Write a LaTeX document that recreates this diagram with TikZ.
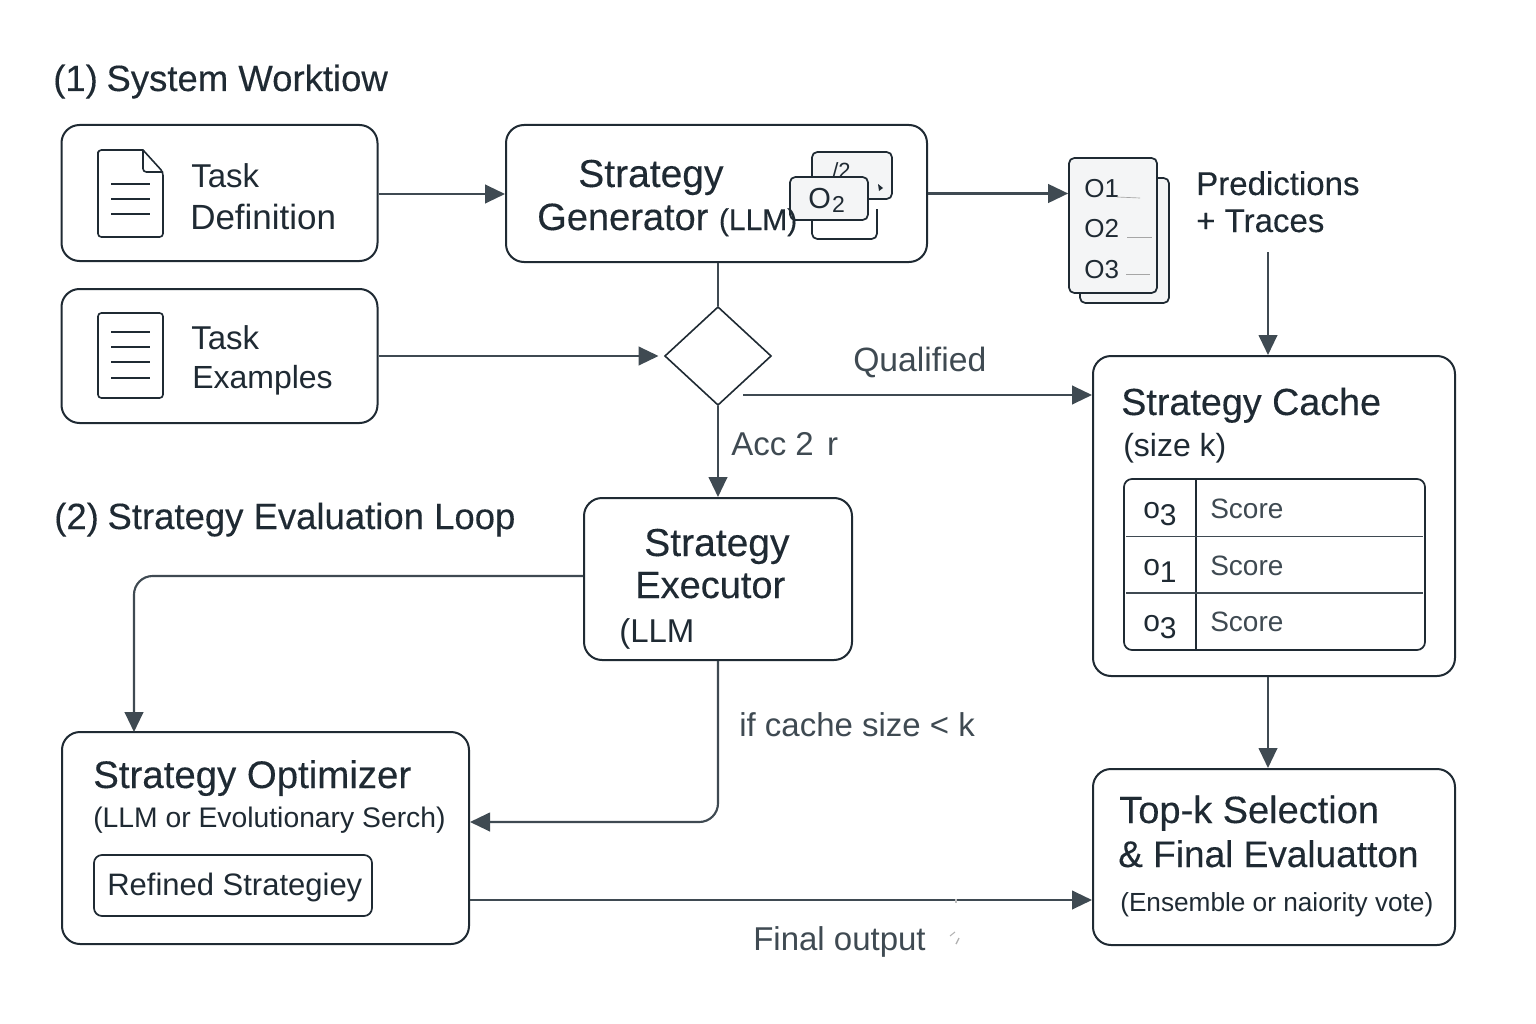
\documentclass[tikz,border=0pt]{standalone}
\usepackage{fontspec}
\setmainfont{Liberation Sans}
\newfontface\medf[FakeBold=0.25]{Liberation Sans}
\usetikzlibrary{arrows.meta,shapes.geometric}
\definecolor{ink}{HTML}{1F2A33}
\definecolor{soft}{HTML}{3F4A52}
\definecolor{sheet}{HTML}{F4F5F6}
\newcommand{\fs}[1]{\pgfmathsetmacro{\fsz}{#1*0.75}\fontsize{\fsz}{\fsz}\selectfont}
\newcommand{\mfs}[1]{\medf\fs{#1}}
\tikzset{
  x=0.75pt,y=-0.75pt,
  panel/.style n args={2}{draw=ink,line width=1.5pt,rounded corners=13.5pt,minimum width=#1*0.75pt,minimum height=#2*0.75pt,inner sep=0pt,fill=white},
  card/.style={draw=ink,line width=1.3pt,rounded corners=4pt,fill=sheet},
  doc/.style={draw=ink,line width=1.2pt,rounded corners=2.5pt,fill=white},
  rule/.style={draw=ink,line width=1.1pt},
  flow/.style={draw=soft,line width=1.6pt,-{Triangle[length=15pt,width=14pt]}},
  plain/.style={draw=soft,line width=1.6pt},
  txt/.style={text=ink,inner sep=0pt,anchor=base west},
  lbl/.style={text=soft,inner sep=0pt,anchor=base west},
}
\begin{document}
\begin{tikzpicture}
\useasboundingbox (0,0) rectangle (1536,1024);
% panels
\node[panel={316}{136}] (def) at (219.5,193) {};
\node[panel={421}{137}] (gen) at (716.5,193.5) {};
\node[panel={316}{134}] (exa) at (219.5,356) {};
\node[diamond,draw=ink,line width=1.2pt,minimum width=80pt,minimum height=74pt,inner sep=0pt,aspect=1.08] (dia) at (718,356) {};
\node[panel={268}{162}] (exe) at (718,579) {};
\node[panel={362}{320}] (cache) at (1274,516) {};
\node[panel={407}{212}] (opt) at (265.5,838) {};
\node[panel={362}{176}] (top) at (1274,857) {};
\node[draw=ink,line width=1.3pt,rounded corners=6pt,minimum width=278*0.75pt,minimum height=61*0.75pt,inner sep=0pt] (ref) at (233,885.5) {};
\node[draw=ink,line width=1.3pt,rounded corners=6pt,minimum width=301*0.75pt,minimum height=171*0.75pt,inner sep=0pt] (tab) at (1274.5,564.5) {};
% table rules
\draw[rule] (1196,479) -- (1196,650);
\draw[rule,draw=soft] (1126,536.5) -- (1423,536.5);
\draw[rule,draw=soft] (1126,593) -- (1423,593);
% document icons
\draw[doc] (98,155) -- (98,237) -- (163,237) -- (163,172) [sharp corners] -- (143,150) [rounded corners=2.5pt] -- (98,150) -- cycle;
\draw[doc,fill=none] (143,150) -- (143,172) -- (163,172);
\foreach \yy in {184,199,214}{\draw[rule] (111,\yy) -- (150,\yy);}
\draw[doc] (98,313) rectangle (163,398);
\foreach \yy in {332,347,362,378}{\draw[rule] (111,\yy) -- (150,\yy);}
% option cards in the generator
\draw[card] (812,152) rectangle (892,199);
\node[txt,font=\fs{22}] at (832,178) {/2};
\fill[ink] (878,184) -- (883,188) -- (879,191) -- cycle;
\draw[ink,line width=1.3pt,rounded corners=4pt] (877,209) -- (877,239) -- (812,239) -- (812,220);
\draw[card] (790,177) rectangle (868,220);
\node[txt,font=\fs{29}] at (808,208) {O\raisebox{-0.3ex}{\fs{23}\kern1pt 2}};
% stacked sheets
\draw[card] (1080,178) rectangle (1169,303);
\node[card,minimum width=88*0.75pt,minimum height=135*0.75pt,inner sep=0pt] (stack) at (1113,225.5) {};
\node[txt,font=\fs{26}] (o1) at (1084,197) {O1};
\node[txt,font=\fs{26}] (o2) at (1084,237) {O2};
\node[txt,font=\fs{26}] (o3) at (1084,278) {O3};
\draw[gray!70,line width=0.5pt] (1117,197) -- (1140,198);
\draw[gray!70,line width=0.5pt] (1127,237.5) -- (1152,237.5);
\draw[gray!70,line width=0.5pt] (1126,274) -- (1150,274);
% connectors
\draw[flow] ([yshift=-0.75pt]def.east) -- ([yshift=-0.75pt]def.east -| gen.west);
\draw[flow] (gen.east) -- (gen.east -| stack.west);
\draw[plain] (gen.south -| dia.north) -- (dia.north);
\draw[flow] (exa.east) -- ([xshift=-4pt]dia.west);
\draw[flow] (dia.south) -- (dia.south |- exe.north);
\coordinate (qs) at (743,395);
\draw[flow] (qs) -- (qs -| cache.west);
\coordinate (ps) at (1268,252);
\draw[flow] (ps) -- (ps |- cache.north);
\draw[flow] (cache.south -| ps) -- (ps |- top.north);
\draw[flow,rounded corners=14pt] (exe.west |- 0,576) -- (134,576) -- (134,732);
\draw[flow,rounded corners=14pt] (exe.south) -- (718,822) -- (470,822);
\draw[flow] (opt.east |- 0,900) -- (top.west |- 0,900);
% text
\node[txt,font=\mfs{36.5}] at (53,91) {(1)\kern6.5pt System Worktiow};
\node[txt,font=\mfs{36.5}] at (54,529) {(2)\kern6.5pt Strategy Evaluation Loop};
\node[txt,font=\fs{33}] at (191,187) {Task};
\node[txt,font=\fs{35}] at (190,229) {Definition};
\node[txt,font=\fs{33}] at (191,349) {Task};
\node[txt,font=\fs{32}] at (192,388) {Examples};
\node[txt,font=\mfs{39}] at (578,187) {Strategy};
\node[txt,font=\mfs{38}] at (537,230) {Generator \fs{30}(LLM)};
\node[txt,font=\mfs{33}] at (1196,195) {Predictions};
\node[txt,font=\mfs{33}] at (1196,232) {+ Traces};
\node[lbl,font=\fs{33.7}] at (853,371) {Qualified};
\node[lbl,font=\fs{33}] at (731,455) {Acc 2\kern10pt r};
\node[txt,font=\mfs{39}] at (644,556) {Strategy};
\node[txt,font=\mfs{38}] at (635,598) {Executor};
\node[txt,font=\fs{33}] at (619,642) {(LLM};
\node[txt,font=\mfs{37.7}] at (1121,415) {Strategy Cache};
\node[txt,font=\fs{32}] at (1123,456) {(size k)};
\foreach \yy/\dd in {518/3,575/1,631/3}{
  \node[txt,font=\fs{30}] at (1143,\yy) {o\raisebox{-0.5ex}{\dd}};
  \node[lbl,font=\fs{28}] at (1210,\yy) {Score};
}
\node[lbl,font=\fs{33}] at (739,736) {if cache size < k};
\node[txt,font=\mfs{38.4}] at (93,788) {Strategy Optimizer};
\node[txt,font=\fs{28.3}] at (93,827) {(LLM or Evolutionary Serch)};
\node[txt,font=\fs{31}] at (107,895) {Refined Strategiey};
\node[txt,font=\mfs{38}] at (1119,823) {Top-k Selection};
\node[txt,font=\mfs{37}] at (1118,867) {\& Final Evaluatton};
\node[txt,font=\fs{26.2}] at (1120,911) {(Ensemble or naiority vote)};
\node[lbl,font=\fs{33}] at (753,950) {Final output};
\draw[gray!60,line width=0.8pt] (950,936) -- (955,932);
\draw[gray!60,line width=1pt] (956,944) -- (959,938);
\draw[gray!50,line width=1pt] (956,899) -- (956,903);
\end{tikzpicture}
\end{document}
